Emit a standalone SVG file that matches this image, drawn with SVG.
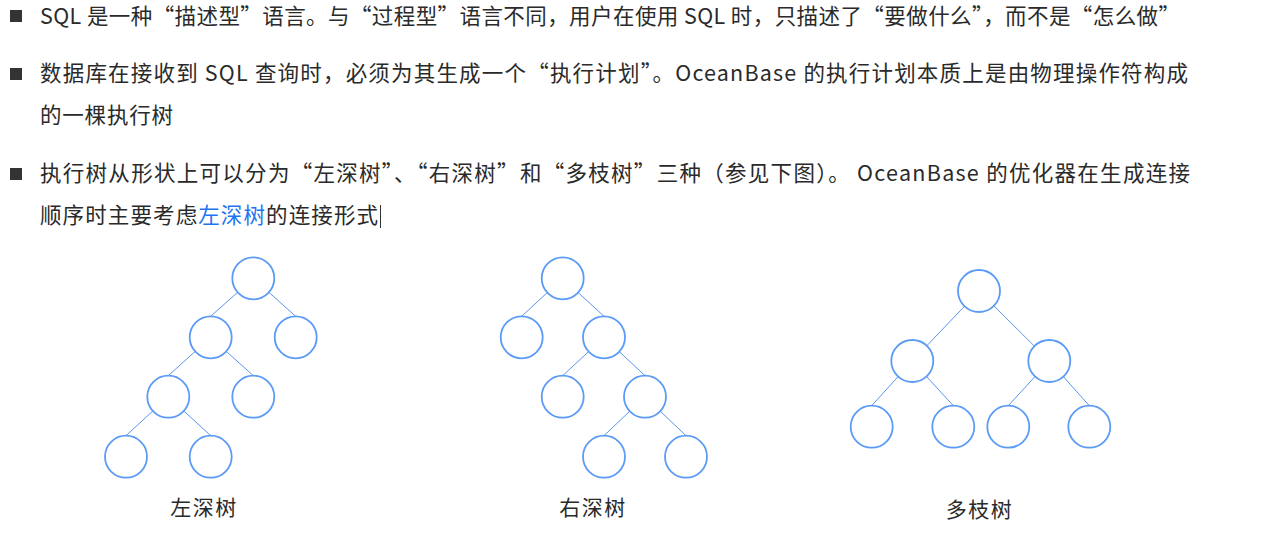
<svg xmlns="http://www.w3.org/2000/svg" width="1271" height="533" viewBox="0 0 1271 533">
<style>
.t{font-family:"Noto Sans CJK SC","Noto Sans",sans-serif;font-size:21.5px;fill:#2a2a2a}
.hl{fill:#1f74f2}
.lbl{font-family:"Noto Sans CJK SC","Noto Sans",sans-serif;font-size:21px;fill:#2a2a2a;letter-spacing:1.5px;text-anchor:middle}
.b{fill:#333}
.n{fill:#fff;stroke:#5b9bf6;stroke-width:1.8}
.e{stroke:#5b95f0;stroke-width:1;fill:none}
</style>
<rect width="1271" height="533" fill="#fff"/>
<g id="text">
<rect class="b" x="10" y="10" width="12" height="12"/>
<text class="t" x="40" y="23.5" textLength="1140" lengthAdjust="spacing">SQL 是一种“描述型”语言。与“过程型”语言不同，用户在使用 SQL 时，只描述了“要做什么”，而不是“怎么做”</text>
<rect class="b" x="10" y="68" width="12" height="12"/>
<text class="t" x="40" y="80.5" textLength="1148" lengthAdjust="spacing">数据库在接收到 SQL 查询时，必须为其生成一个“执行计划”。OceanBase 的执行计划本质上是由物理操作符构成</text>
<text class="t" x="40" y="122.5" textLength="133" lengthAdjust="spacing">的一棵执行树</text>
<rect class="b" x="10" y="168" width="12" height="12"/>
<text class="t" x="40" y="180.5" textLength="1150" lengthAdjust="spacing">执行树从形状上可以分为“左深树”、“右深树”和“多枝树”三种（参见下图）。 OceanBase 的优化器在生成连接</text>
<text class="t" x="40" y="222.5" textLength="338" lengthAdjust="spacing">顺序时主要考虑<tspan class="hl">左深树</tspan>的连接形式</text>
<line x1="380.5" y1="205" x2="380.5" y2="228" stroke="#333" stroke-width="1"/>
</g>
<g id="connectors">
<line class="e" x1="253.3" y1="278.3" x2="210.7" y2="316.3"/>
<line class="e" x1="253.3" y1="278.3" x2="295.7" y2="316.3"/>
<line class="e" x1="210.7" y1="337.3" x2="168.3" y2="375.7"/>
<line class="e" x1="210.7" y1="337.3" x2="253.3" y2="375.7"/>
<line class="e" x1="168.3" y1="396.7" x2="126" y2="435.7"/>
<line class="e" x1="168.3" y1="396.7" x2="210.7" y2="435.7"/>
<line class="e" x1="562.7" y1="278.3" x2="521.7" y2="316.3"/>
<line class="e" x1="562.7" y1="278.3" x2="604" y2="316.3"/>
<line class="e" x1="604" y1="337.3" x2="562.7" y2="375.7"/>
<line class="e" x1="604" y1="337.3" x2="645" y2="375.7"/>
<line class="e" x1="645" y1="396.7" x2="604" y2="435.7"/>
<line class="e" x1="645" y1="396.7" x2="686" y2="435.7"/>
<line class="e" x1="979" y1="291" x2="912.3" y2="361"/>
<line class="e" x1="979" y1="291" x2="1049.3" y2="361"/>
<line class="e" x1="912.3" y1="361" x2="871.7" y2="405.7"/>
<line class="e" x1="912.3" y1="361" x2="953.3" y2="405.7"/>
<line class="e" x1="1049.3" y1="361" x2="1008.3" y2="405.7"/>
<line class="e" x1="1049.3" y1="361" x2="1089.3" y2="405.7"/>
</g>
<g id="left-deep">
<g id="ld-0"><circle class="n" cx="253.3" cy="278.3" r="21"/></g>
<g id="ld-1a"><circle class="n" cx="210.7" cy="337.3" r="21"/></g>
<g id="ld-1b"><circle class="n" cx="295.7" cy="337.3" r="21"/></g>
<g id="ld-2a"><circle class="n" cx="168.3" cy="396.7" r="21"/></g>
<g id="ld-2b"><circle class="n" cx="253.3" cy="396.7" r="21"/></g>
<g id="ld-3a"><circle class="n" cx="126" cy="456.7" r="21"/></g>
<g id="ld-3b"><circle class="n" cx="210.7" cy="456.7" r="21"/></g>
<text class="lbl" x="204" y="515">左深树</text>
</g>
<g id="right-deep">
<g id="rd-0"><circle class="n" cx="562.7" cy="278.3" r="21"/></g>
<g id="rd-1a"><circle class="n" cx="521.7" cy="337.3" r="21"/></g>
<g id="rd-1b"><circle class="n" cx="604" cy="337.3" r="21"/></g>
<g id="rd-2a"><circle class="n" cx="562.7" cy="396.7" r="21"/></g>
<g id="rd-2b"><circle class="n" cx="645" cy="396.7" r="21"/></g>
<g id="rd-3a"><circle class="n" cx="604" cy="456.7" r="21"/></g>
<g id="rd-3b"><circle class="n" cx="686" cy="456.7" r="21"/></g>
<text class="lbl" x="593" y="515">右深树</text>
</g>
<g id="bushy">
<g id="bt-0"><circle class="n" cx="979" cy="291" r="21"/></g>
<g id="bt-1a"><circle class="n" cx="912.3" cy="361" r="21"/></g>
<g id="bt-1b"><circle class="n" cx="1049.3" cy="361" r="21"/></g>
<g id="bt-2a"><circle class="n" cx="871.7" cy="426.7" r="21"/></g>
<g id="bt-2b"><circle class="n" cx="953.3" cy="426.7" r="21"/></g>
<g id="bt-2c"><circle class="n" cx="1008.3" cy="426.7" r="21"/></g>
<g id="bt-2d"><circle class="n" cx="1089.3" cy="426.7" r="21"/></g>
<text class="lbl" x="979.5" y="517">多枝树</text>
</g>
</svg>
